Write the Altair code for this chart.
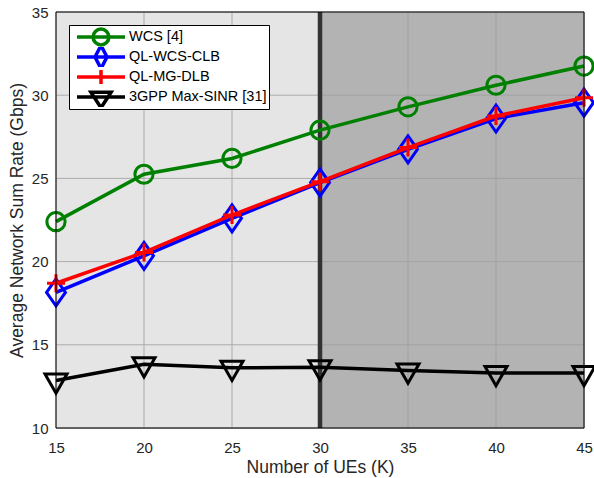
import altair as alt
import pandas as pd

# ---- data ----
K = [15, 20, 25, 30, 35, 40, 45]
wcs = [22.4, 25.25, 26.2, 27.9, 29.3, 30.6, 31.75]
ql_wcs_clb = [18.15, 20.35, 22.6, 24.75, 26.75, 28.6, 29.55]
ql_mg_dlb = [18.7, 20.55, 22.8, 24.8, 26.85, 28.75, 29.85]
gpp = [12.85, 13.83, 13.62, 13.65, 13.45, 13.3, 13.3]

series_names = ["WCS [4]", "QL-WCS-CLB", "QL-MG-DLB", "3GPP Max-SINR [31]"]
series_values = [wcs, ql_wcs_clb, ql_mg_dlb, gpp]
series_colors = ["#008000", "#0000ff", "#ff0000", "#000000"]

x_ticks = [15, 20, 25, 30, 35, 40, 45]
y_ticks = [10, 15, 20, 25, 30, 35]
x_domain = [15, 45]
y_domain = [10, 35]
band_start = [15, 30]
band_end = [30, 45]
band_colors = ["#e5e5e5", "#b3b3b3"]
split_at = [30]

# marker paths (plot) and sizes
plot_shapes = [
    "circle",
    "M-0.7,0L0,-1L0.7,0L0,1Z",
    "M-1,0L1,0M0,-1L0,1",
    "M-1,-0.6L1,-0.6L0,1.15Z",
]
plot_sizes = [330, 729, 324, 484]

# legend symbols: line + marker in unit coords
legend_shapes = [
    "M-1,0L1,0M0.33,0A0.33,0.33,0,1,1,-0.33,0A0.33,0.33,0,1,1,0.33,0Z",
    "M-1,0L1,0M-0.25,0L0,-0.48L0.25,0L0,0.48Z",
    "M-1,0L1,0M-0.33,0L0.33,0M0,-0.29L0,0.29",
    "M-1,0L1,0M-0.42,-0.2L0.42,-0.2L0,0.45Z",
]

rows = []
for name, vals in zip(series_names, series_values):
    for k, v in zip(K, vals):
        rows.append({"K": k, "rate": v, "series": name})
df = pd.DataFrame(rows)

bands = pd.DataFrame({"x0": band_start, "x1": band_end, "c": band_colors})
xgrid = pd.DataFrame({"x": x_ticks})
ygrid = pd.DataFrame({"y": y_ticks})
split = pd.DataFrame({"x": split_at})
frame = pd.DataFrame({"x0": [x_domain[0]], "x1": [x_domain[1]],
                      "y0": [y_domain[0]], "y1": [y_domain[1]]})

FONT = "Liberation Sans"
xscale = alt.Scale(domain=x_domain, nice=False, zero=False)
yscale = alt.Scale(domain=y_domain, nice=False, zero=False)

xaxis = alt.Axis(values=x_ticks, grid=False, ticks=False, domain=False,
                 labelFlush=False, labelOverlap=False,
                 labelFontSize=15, labelFont=FONT, labelColor="#262626",
                 labelPadding=12, title="Number of UEs (K)", titleFont=FONT,
                 titleFontSize=17.5, titleFontWeight="normal", titleColor="#262626",
                 titlePadding=3)
yaxis = alt.Axis(values=y_ticks, grid=False, ticks=False, domain=False,
                 labelFlush=False, labelOverlap=False,
                 labelFontSize=15, labelFont=FONT, labelColor="#262626",
                 labelPadding=8, title="Average Network Sum Rate (Gbps)", titleFont=FONT,
                 titleFontSize=17.5, titleFontWeight="normal", titleColor="#262626",
                 titlePadding=5)


def X(field):
    return alt.X(field, scale=xscale, axis=xaxis)


def Y(field):
    return alt.Y(field, scale=yscale, axis=yaxis)


bg = alt.Chart(bands).mark_rect().encode(
    x=X("x0:Q"),
    x2="x1:Q",
    y=alt.value(0),
    y2=alt.value(416),
    color=alt.Color("c:N", scale=None),
)

gx = alt.Chart(xgrid).mark_rule(color="#9e9e9e", strokeWidth=1, opacity=0.8).encode(
    x=X("x:Q"))
gy = alt.Chart(ygrid).mark_rule(color="#9e9e9e", strokeWidth=1, opacity=0.8).encode(
    y=Y("y:Q"))

split_rule = alt.Chart(split).mark_rule(color="#333333", strokeWidth=4.5).encode(
    x=X("x:Q"))

layers = [bg, gx, gy, split_rule]

for name, col, shp, sz in zip(series_names, series_colors, plot_shapes, plot_sizes):
    base = alt.Chart(df).transform_filter(alt.datum.series == name)
    line = base.mark_line(color=col, strokeWidth=3.5).encode(
        x=X("K:Q"), y=Y("rate:Q"),
    )
    pts = base.mark_point(color=col, filled=False, strokeWidth=3, shape=shp,
                          size=sz, opacity=1).encode(
        x=X("K:Q"), y=Y("rate:Q"),
    )
    layers += [line, pts]

legend_layer = alt.Chart(df).transform_filter("false").mark_point(
    filled=False, strokeWidth=3.5, opacity=1).encode(
    x=X("K:Q"),
    y=Y("rate:Q"),
    color=alt.Color("series:N", scale=alt.Scale(domain=series_names, range=series_colors),
                    legend=alt.Legend(title=None, orient="none", legendX=13, legendY=13,
                                      strokeColor="#000000", fillColor="#ffffff",
                                      padding=2, cornerRadius=0,
                                      labelFont=FONT, labelFontSize=14.5, labelColor="#000000",
                                      symbolSize=2304, symbolStrokeWidth=3.5,
                                      symbolOffset=4, labelOffset=2, rowPadding=0,
                                      clipHeight=20, symbolOpacity=1)),
    shape=alt.Shape("series:N", scale=alt.Scale(domain=series_names, range=legend_shapes)),
)

frame_layer = alt.Chart(frame).mark_rect(fillOpacity=0, stroke="#000000", strokeWidth=1).encode(
    x=X("x0:Q"), x2="x1:Q",
    y=Y("y0:Q"), y2="y1:Q",
)

layers += [legend_layer, frame_layer]

chart = alt.layer(*layers).properties(
    width=528, height=416,
    autosize=alt.AutoSizeParams(type="none"),
    padding={"left": 56, "top": 12, "right": 10, "bottom": 50},
).configure_view(stroke=None).configure(background="#ffffff")

chart.save("out.html", embed_options={"renderer": "svg", "actions": False})
